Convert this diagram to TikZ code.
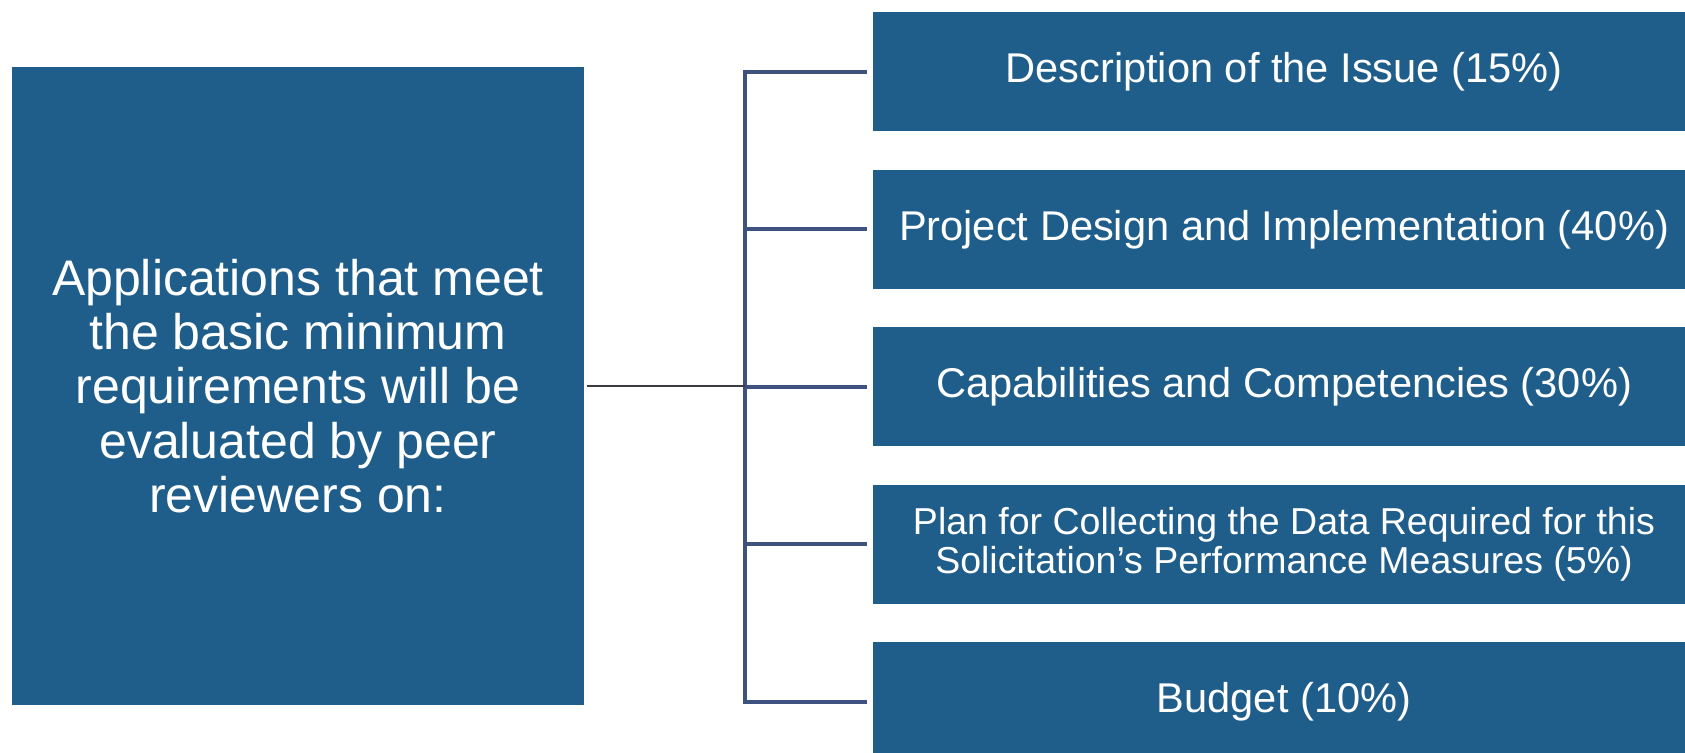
\documentclass[tikz,border=0pt]{standalone}
\usepackage{fontspec}
\setmainfont{Liberation Sans}
\usetikzlibrary{positioning}
\definecolor{boxblue}{RGB}{31,94,138}
\definecolor{linkblue}{RGB}{62,82,128}
\definecolor{linkgray}{RGB}{58,60,66}

\begin{document}
\begin{tikzpicture}[x=0.5pt, y=-0.5pt,
        box/.style={rectangle, fill=boxblue, text=white, align=center, inner sep=0pt},
        crit/.style={box, minimum width=411pt, minimum height=59.5pt, font=\fontsize{20.8}{24}\selectfont},
        link/.style={linkblue, line width=2pt}
    ]
        \useasboundingbox (0,0) rectangle (1685,753);
        \clip (0,0) rectangle (1685,753);

        % Left box
        \node [box, minimum width=286pt, minimum height=319pt, font=\fontsize{25}{27.2}\selectfont] (apps) at (298,386)
            {Applications that meet\\the basic minimum\\requirements will be\\evaluated by peer\\reviewers on:};

        % Criteria
        \node [crit] (issue) at (1284,72) {Description of the Issue (15\%)};
        \node [crit, below=18.8pt of issue] (design) {Project Design and Implementation (40\%)};
        \node [crit, below=18.8pt of design] (capab) {Capabilities and Competencies (30\%)};
        \node [crit, below=18.8pt of capab, font=\fontsize{18.75}{19.5}\selectfont] (plan)
            {Plan for Collecting the Data Required for this\\Solicitation’s Performance Measures (5\%)};
        \node [crit, below=18.8pt of plan] (budget) {Budget (10\%)};

        % Bracket
        \coordinate (spine) at (745,386);
        \draw [link] ([xshift=-3pt]issue.west) -- (spine |- issue) -- (spine |- budget) -- ([xshift=-3pt]budget.west);
        \draw [link] (spine |- design) -- ([xshift=-3pt]design.west);
        \draw [link] (spine |- capab) -- ([xshift=-3pt]capab.west);
        \draw [link] (spine |- plan) -- ([xshift=-3pt]plan.west);
        \draw [linkgray, line width=0.8pt, shorten <=1.5pt] (apps.east) -- (spine);
    \end{tikzpicture}
\end{document}
